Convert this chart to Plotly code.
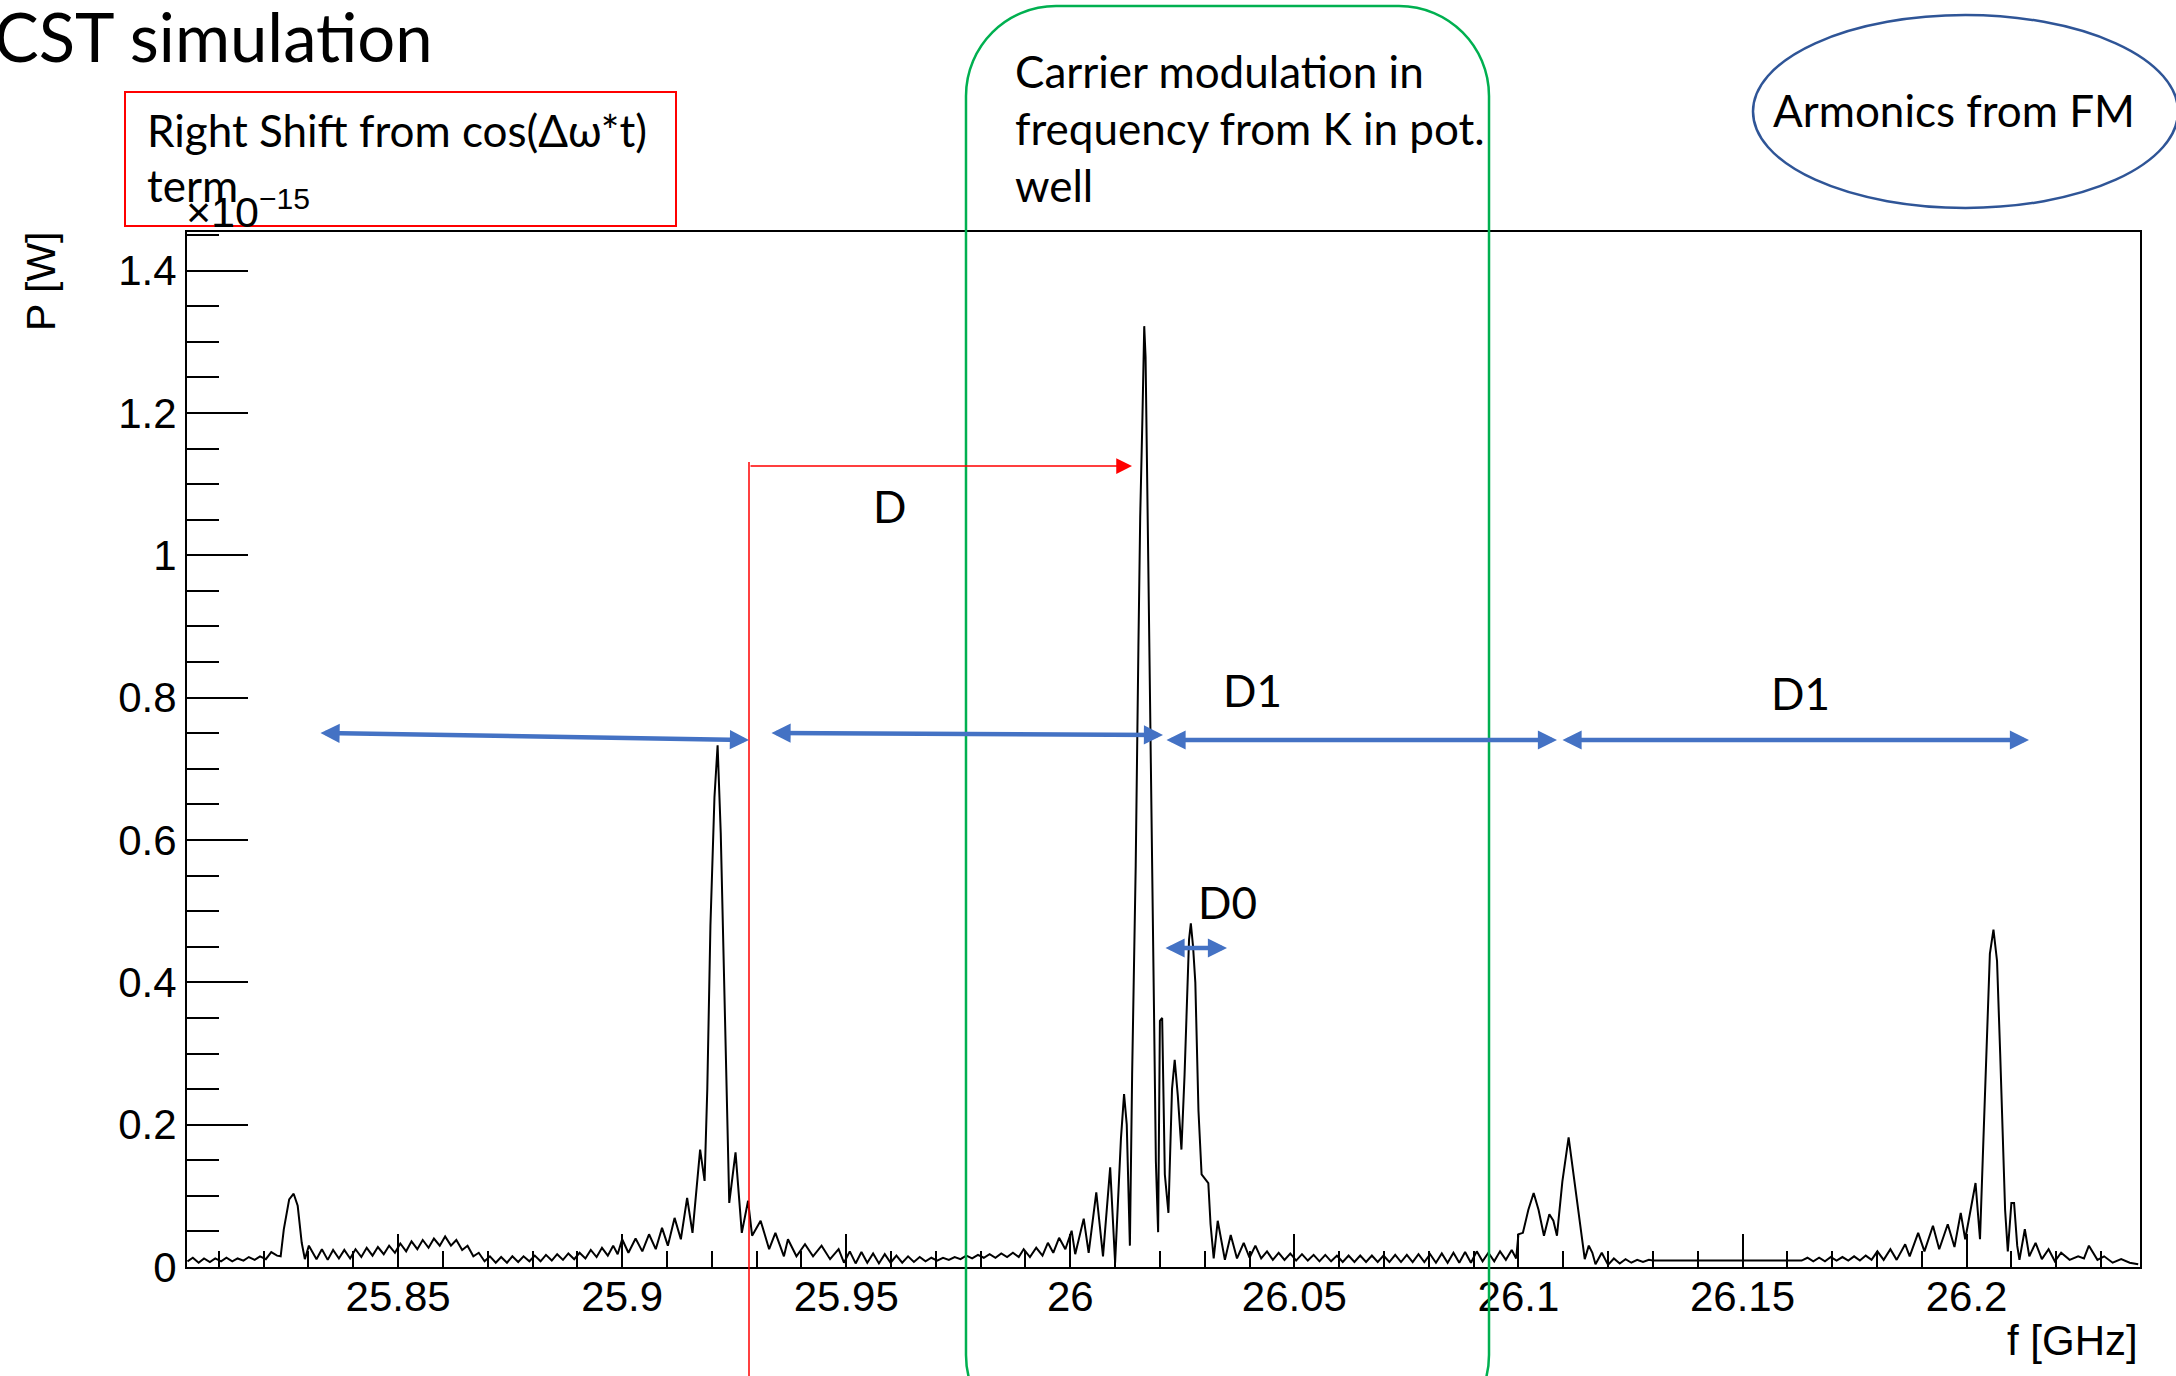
import plotly.graph_objects as go

# ---------------- data (power in units of 1e-15 W, frequency in GHz) ----------------
F_SEG1 = [25.8030, 25.8042, 25.8055, 25.8067, 25.8080, 25.8092, 25.8105, 25.8117, 25.8130, 25.8142,
          25.8155, 25.8167, 25.8180, 25.8192, 25.8205, 25.8217, 25.8230, 25.8238, 25.8245, 25.8257,
          25.8267, 25.8276, 25.8285, 25.8292, 25.8301]
P_SEG1 = [0.008, 0.013, 0.006, 0.012, 0.007, 0.012, 0.008, 0.013, 0.008, 0.012,
          0.009, 0.014, 0.010, 0.015, 0.011, 0.021, 0.016, 0.015, 0.053, 0.095,
          0.103, 0.086, 0.034, 0.011, 0.030]

F_SEG2 = [25.8318, 25.8330, 25.8343, 25.8355, 25.8368, 25.8380, 25.8393, 25.8405, 25.8418, 25.8430,
          25.8443, 25.8455, 25.8468, 25.8480, 25.8493, 25.8505, 25.8518, 25.8530, 25.8543, 25.8555,
          25.8568, 25.8580, 25.8593, 25.8605, 25.8618, 25.8630, 25.8643, 25.8655, 25.8668, 25.8680,
          25.8693, 25.8705, 25.8718, 25.8730, 25.8743, 25.8755, 25.8768, 25.8780, 25.8793, 25.8805,
          25.8818, 25.8830, 25.8843, 25.8855, 25.8868, 25.8880, 25.8893, 25.8905, 25.8918, 25.8930,
          25.8943, 25.8955, 25.8968, 25.8980, 25.8990]
P_SEG2 = [0.011, 0.025, 0.010, 0.024, 0.012, 0.024, 0.012, 0.025, 0.014, 0.027,
          0.016, 0.028, 0.018, 0.030, 0.020, 0.033, 0.022, 0.036, 0.025, 0.038,
          0.027, 0.040, 0.030, 0.043, 0.030, 0.038, 0.024, 0.030, 0.015, 0.020,
          0.008, 0.015, 0.006, 0.014, 0.006, 0.015, 0.007, 0.015, 0.008, 0.016,
          0.008, 0.017, 0.009, 0.018, 0.010, 0.019, 0.011, 0.020, 0.012, 0.024,
          0.014, 0.027, 0.016, 0.030, 0.018]

F_SEG3 = [25.9000, 25.9014, 25.9030, 25.9045, 25.9060, 25.9075, 25.9089, 25.9102, 25.9117, 25.9131,
          25.9145, 25.9157, 25.9174, 25.9184, 25.9190, 25.9197, 25.9206, 25.9213, 25.9220, 25.9227,
          25.9233, 25.9239, 25.9253, 25.9267, 25.9281, 25.9290, 25.9309, 25.9328, 25.9342, 25.9361,
          25.9370, 25.9389, 25.9408, 25.9426, 25.9445, 25.9464, 25.9483]
P_SEG3 = [0.039, 0.020, 0.040, 0.022, 0.046, 0.025, 0.055, 0.030, 0.069, 0.039,
          0.097, 0.048, 0.165, 0.121, 0.250, 0.480, 0.660, 0.733, 0.610, 0.430,
          0.273, 0.090, 0.161, 0.048, 0.093, 0.044, 0.065, 0.025, 0.048, 0.015,
          0.039, 0.015, 0.032, 0.015, 0.030, 0.011, 0.025]

F_SEG4 = [25.9495, 25.9508, 25.9521, 25.9534, 25.9547, 25.9560, 25.9573, 25.9586, 25.9599, 25.9612,
          25.9625, 25.9638, 25.9651, 25.9664, 25.9677, 25.9690, 25.9703, 25.9716, 25.9729, 25.9742,
          25.9755, 25.9768, 25.9781, 25.9794, 25.9807, 25.9820, 25.9833, 25.9846, 25.9859, 25.9872,
          25.9885, 25.9896, 25.9910, 25.9924, 25.9938, 25.9950, 25.9962, 25.9975, 25.9989, 26.0003,
          26.0011, 26.0030, 26.0041, 26.0058, 26.0073, 26.0089, 26.0100, 26.0113, 26.0120, 26.0126,
          26.0133]
P_SEG4 = [0.006, 0.022, 0.005, 0.021, 0.006, 0.019, 0.005, 0.018, 0.006, 0.016,
          0.006, 0.015, 0.007, 0.014, 0.008, 0.013, 0.009, 0.013, 0.010, 0.014,
          0.011, 0.016, 0.012, 0.017, 0.013, 0.018, 0.013, 0.019, 0.014, 0.020,
          0.014, 0.025, 0.014, 0.027, 0.016, 0.034, 0.020, 0.041, 0.025, 0.051,
          0.018, 0.068, 0.020, 0.105, 0.015, 0.140, 0.006, 0.180, 0.243, 0.200,
          0.030]

F_SEG5 = [26.0138, 26.0146, 26.0152, 26.0156, 26.0161, 26.0163, 26.0165, 26.0168, 26.0170, 26.0174,
          26.0178, 26.0182, 26.0187, 26.0191, 26.0196, 26.0200, 26.0205, 26.0211, 26.0219, 26.0227,
          26.0233, 26.0240, 26.0248, 26.0255, 26.0262, 26.0265, 26.0269, 26.0274, 26.0279, 26.0286,
          26.0293, 26.0300, 26.0308, 26.0313, 26.0320, 26.0329, 26.0345, 26.0358, 26.0372, 26.0387,
          26.0400, 26.0413]
P_SEG5 = [0.270, 0.565, 0.870, 1.054, 1.194, 1.280, 1.322, 1.279, 1.154, 0.992,
          0.794, 0.565, 0.350, 0.148, 0.049, 0.346, 0.350, 0.130, 0.076, 0.250,
          0.291, 0.240, 0.165, 0.270, 0.400, 0.460, 0.483, 0.450, 0.400, 0.220,
          0.130, 0.125, 0.118, 0.060, 0.012, 0.065, 0.010, 0.045, 0.012, 0.034,
          0.013, 0.030]

F_SEG6 = [26.0426, 26.0439, 26.0452, 26.0465, 26.0478, 26.0491, 26.0504, 26.0517, 26.0530, 26.0543,
          26.0556, 26.0569, 26.0582, 26.0595, 26.0608, 26.0621, 26.0634, 26.0647, 26.0660, 26.0673,
          26.0686, 26.0699, 26.0712, 26.0725, 26.0738, 26.0751, 26.0764, 26.0777, 26.0790, 26.0803,
          26.0816, 26.0829, 26.0842, 26.0855, 26.0868, 26.0881, 26.0894, 26.0907, 26.0920, 26.0933,
          26.0946, 26.0959, 26.0972, 26.0985, 26.0995]
P_SEG6 = [0.012, 0.022, 0.010, 0.020, 0.010, 0.019, 0.009, 0.018, 0.009, 0.017,
          0.008, 0.017, 0.008, 0.016, 0.007, 0.016, 0.007, 0.016, 0.007, 0.016,
          0.007, 0.016, 0.007, 0.017, 0.007, 0.017, 0.007, 0.018, 0.007, 0.018,
          0.006, 0.019, 0.006, 0.020, 0.006, 0.021, 0.006, 0.022, 0.008, 0.020,
          0.008, 0.022, 0.010, 0.024, 0.012]

F_SEG7 = [26.1000, 26.1010, 26.1022, 26.1034, 26.1045, 26.1057, 26.1069, 26.1078, 26.1086, 26.1098,
          26.1112, 26.1125, 26.1138, 26.1148, 26.1157, 26.1165, 26.1172, 26.1186, 26.1200, 26.1213,
          26.1226, 26.1239, 26.1252, 26.1265, 26.1278, 26.1291, 26.1300]
P_SEG7 = [0.046, 0.048, 0.080, 0.104, 0.080, 0.044, 0.074, 0.065, 0.044, 0.120,
          0.182, 0.120, 0.053, 0.011, 0.030, 0.020, 0.004, 0.020, 0.003, 0.012,
          0.005, 0.011, 0.006, 0.010, 0.007, 0.010, 0.009]

F_SEG8 = [26.1632, 26.1645, 26.1658, 26.1671, 26.1684, 26.1697, 26.1710, 26.1723, 26.1736, 26.1749,
          26.1762, 26.1775, 26.1788, 26.1801, 26.1815, 26.1830, 26.1844, 26.1863, 26.1873, 26.1892,
          26.1906, 26.1925, 26.1939, 26.1958, 26.1973, 26.1987, 26.1997, 26.2020, 26.2030]
P_SEG8 = [0.009, 0.013, 0.008, 0.013, 0.008, 0.014, 0.009, 0.014, 0.009, 0.015,
          0.009, 0.016, 0.010, 0.022, 0.010, 0.025, 0.010, 0.032, 0.015, 0.048,
          0.022, 0.058, 0.025, 0.060, 0.028, 0.076, 0.039, 0.118, 0.039]

F_SEG9 = [26.2036, 26.2044, 26.2052, 26.2060, 26.2068, 26.2075, 26.2080, 26.2086, 26.2092, 26.2100,
          26.2106, 26.2113, 26.2118, 26.2130, 26.2140, 26.2154, 26.2168, 26.2183, 26.2197, 26.2211,
          26.2230, 26.2249, 26.2262, 26.2273, 26.2292, 26.2307, 26.2326, 26.2345, 26.2364, 26.2383]
P_SEG9 = [0.150, 0.300, 0.440, 0.474, 0.430, 0.300, 0.200, 0.080, 0.022, 0.090,
          0.090, 0.030, 0.010, 0.053, 0.015, 0.034, 0.011, 0.025, 0.008, 0.020,
          0.010, 0.015, 0.012, 0.030, 0.010, 0.015, 0.006, 0.011, 0.006, 0.004]

X_TICK_VALUES = [25.85, 25.9, 25.95, 26.0, 26.05, 26.1, 26.15, 26.2]
X_TICK_TEXT = ["25.85", "25.9", "25.95", "26", "26.05", "26.1", "26.15", "26.2"]
Y_TICK_VALUES = [0, 0.2, 0.4, 0.6, 0.8, 1.0, 1.2, 1.4]
Y_TICK_TEXT = ["0", "0.2", "0.4", "0.6", "0.8", "1", "1.2", "1.4"]

F_SEGS = [F_SEG1, F_SEG2, F_SEG3, F_SEG4, F_SEG5, F_SEG6, F_SEG7, F_SEG8, F_SEG9]
P_SEGS = [P_SEG1, P_SEG2, P_SEG3, P_SEG4, P_SEG5, P_SEG6, P_SEG7, P_SEG8, P_SEG9]
freq, power = [], []
for fs, ps in zip(F_SEGS, P_SEGS):
    assert len(fs) == len(ps), (fs[0], len(fs), len(ps))
    freq += fs
    power += ps

# ---------------- layout geometry ----------------
W, H = 2176, 1376
PLOT_L, PLOT_R, PLOT_T, PLOT_B = 187, 2140, 232, 1267
PW, PH = PLOT_R - PLOT_L, PLOT_B - PLOT_T


def X(px):
    return (px - PLOT_L) / PW


def Y(py):
    return (PLOT_B - py) / PH


SLIDE_FONT = "Lato"
ROOT_FONT = "Liberation Sans"
BLUE = "#4472C4"

fig = go.Figure()
fig.add_trace(go.Scatter(x=freq, y=power, mode="lines",
                         line=dict(color="black", width=2), showlegend=False, hoverinfo="skip"))

axis_common = dict(showline=True, linecolor="black", linewidth=2, mirror=True, showgrid=False,
                   zeroline=False, ticks="inside", tickcolor="black", tickwidth=1.5,
                   tickfont=dict(family=ROOT_FONT, size=42, color="black"), tickmode="array")

fig.update_xaxes(range=[25.8029, 26.2387], tickvals=X_TICK_VALUES, ticktext=X_TICK_TEXT, ticklen=33,
                 ticklabelstandoff=-8,
                 minor=dict(tickmode="linear", tick0=25.8, dtick=0.01, ticks="inside", ticklen=16,
                            tickwidth=1.5, tickcolor="black", showgrid=False), **axis_common)
fig.update_yaxes(range=[0, 1.4543], tickvals=Y_TICK_VALUES, ticktext=Y_TICK_TEXT, ticklen=61,
                 minor=dict(tickmode="linear", tick0=0, dtick=0.05, ticks="inside", ticklen=32,
                            tickwidth=1.5, tickcolor="black", showgrid=False), **axis_common)

# green rounded rectangle
gx0, gx1, gy0, gy1, r = 966, 1489, 6, 1445, 90
k = 0.5523 * r
pts = [("M", [(gx0, gy0 + r)]),
       ("C", [(gx0, gy0 + r - k), (gx0 + r - k, gy0), (gx0 + r, gy0)]),
       ("L", [(gx1 - r, gy0)]),
       ("C", [(gx1 - r + k, gy0), (gx1, gy0 + r - k), (gx1, gy0 + r)]),
       ("L", [(gx1, gy1 - r)]),
       ("C", [(gx1, gy1 - r + k), (gx1 - r + k, gy1), (gx1 - r, gy1)]),
       ("L", [(gx0 + r, gy1)]),
       ("C", [(gx0 + r - k, gy1), (gx0, gy1 - r + k), (gx0, gy1 - r)])]
path = " ".join(cmd + " " + " ".join(f"{X(a):.5f},{Y(b):.5f}" for a, b in ps) for cmd, ps in pts) + " Z"

shapes = [
    dict(type="rect", xref="paper", yref="paper", x0=X(125), x1=X(676), y0=Y(226), y1=Y(92),
         line=dict(color="#FF0000", width=2)),
    dict(type="path", xref="paper", yref="paper", path=path, line=dict(color="#00B050", width=2.5)),
    dict(type="circle", xref="paper", yref="paper", x0=X(1753), x1=X(2178), y0=Y(208), y1=Y(15),
         line=dict(color="#2F5597", width=2.5)),
    dict(type="line", xref="paper", yref="paper", x0=X(749), x1=X(749), y0=Y(462), y1=Y(1380),
         line=dict(color="#FF0000", width=1.5)),
]
fig.update_layout(shapes=shapes)

ann = []


def text(s, px, py, size=44, xanchor="center", family=SLIDE_FONT, angle=0, yanchor="middle"):
    ann.append(dict(text=s, x=X(px), y=Y(py), xref="paper", yref="paper", showarrow=False,
                    xanchor=xanchor, yanchor=yanchor, textangle=angle,
                    font=dict(family=family, size=size, color="black")))


def arrow(x0, y0, x1, y1, color, width, size, both=True):
    a = dict(text="", x=X(x1), y=Y(y1), xref="paper", yref="paper", ax=x0 - x1, ay=y0 - y1,
             axref="pixel", ayref="pixel", showarrow=True, arrowhead=2, arrowsize=size,
             arrowwidth=width, arrowcolor=color, standoff=0, font=dict(size=1))
    if both:
        a.update(arrowside="end+start", startarrowhead=2, startarrowsize=size, startstandoff=0)
    ann.append(a)


text("CST simulation", -8, 36, size=67, xanchor="left")
text("Right Shift from cos(\u0394\u03c9*t)", 145, 130, xanchor="left")
text("term", 145, 185, xanchor="left")
text("Carrier modulation in", 1013, 71, xanchor="left")
text("frequency from K in pot.", 1013, 128, xanchor="left")
text("well", 1013, 185, xanchor="left")
text("Armonics from FM", 1771, 110, xanchor="left")
text("D", 889, 506)
text("D1", 1252, 690)
text("D1", 1800, 693)
text("D0", 1227, 902)
text("\u00d710<sup>\u221215</sup>", 184, 238, size=43, xanchor="left", family=ROOT_FONT, yanchor="bottom")
text("P [W]", 41, 282, size=41, family=ROOT_FONT, angle=-90)
text("f [GHz]", 2140, 1340, size=42, xanchor="right", family=ROOT_FONT)

arrow(319, 733, 749, 740, BLUE, 4.5, 0.85)
arrow(770, 733, 1163, 735, BLUE, 4.5, 0.85)
arrow(1165, 740, 1557, 740, BLUE, 4.5, 0.85)
arrow(1561, 740, 2029, 740, BLUE, 4.5, 0.85)
arrow(1164, 948, 1227, 948, BLUE, 4.5, 0.85)
arrow(749, 466, 1132, 466, "#FF0000", 1.5, 2.1, both=False)

fig.update_layout(annotations=ann, width=W, height=H,
                  margin=dict(l=PLOT_L, r=W - PLOT_R, t=PLOT_T, b=H - PLOT_B, pad=0),
                  paper_bgcolor="white", plot_bgcolor="white")

fig.write_html("out.html", config={"displayModeBar": False})
